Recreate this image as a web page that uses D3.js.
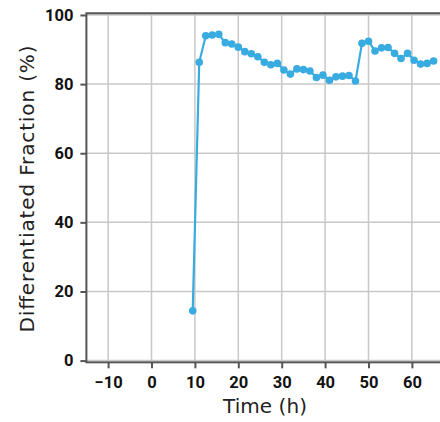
<!DOCTYPE html>
<html><head><meta charset="utf-8">
<script src="https://cdn.jsdelivr.net/npm/d3@7"></script>
<style>body{margin:0;background:#fff;overflow:hidden}svg{display:block}</style>
</head><body>
<script>
const times = [9.5,11,12.5,14,15.5,17,18.5,20,21.5,23,24.5,26,27.5,29,30.5,32,33.5,35,36.5,38,39.5,41,42.5,44,45.5,47,48.5,50,51.5,53,54.5,56,57.5,59,60.5,62,63.5,65];
const fraction = [14.4,86.3,94.0,94.2,94.4,92.0,91.6,90.7,89.4,88.8,87.9,86.3,85.6,86.0,84.1,82.9,84.4,84.2,83.8,81.9,82.6,81.1,82.1,82.3,82.5,80.9,91.8,92.4,89.6,90.5,90.6,88.9,87.4,88.9,86.9,85.8,86.0,86.7];
const xTicks = [-10,0,10,20,30,40,50,60];
const yTicks = [0,20,40,60,80,100];

const W = 440, H = 422;
const svg = d3.select("body").append("svg").attr("width", W).attr("height", H);
const x = d3.scaleLinear().domain([-15, 70]).range([86.4, 455.3]);
const y = d3.scaleLinear().domain([0, 100]).range([360.6, 15]);
const tickFont = "Roboto, 'DejaVu Sans', sans-serif";
const titleFont = "'DejaVu Sans', sans-serif";

const x0 = x(-15), x1 = x(72), yTop = y(100.5), yBot = y(-0.5);

// grid
const g = svg.append("g");
g.selectAll(".vg").data(xTicks).join("line")
  .attr("x1", d => x(d)).attr("x2", d => x(d)).attr("y1", yTop).attr("y2", yBot)
  .attr("stroke", "#c8c8c8").attr("stroke-width", 1.5);
g.selectAll(".hg").data(yTicks).join("line")
  .attr("x1", x0).attr("x2", x1).attr("y1", d => y(d)).attr("y2", d => y(d))
  .attr("stroke", "#c8c8c8").attr("stroke-width", 1.5);

// frame
svg.append("rect").attr("x", x0).attr("y", yTop).attr("width", x1 - x0).attr("height", yBot - yTop)
  .attr("fill", "none").attr("stroke", "#555").attr("stroke-width", 2);

// axes
const xAxis = svg.append("g").attr("transform", `translate(0,${yBot})`)
  .call(d3.axisBottom(x).tickValues(xTicks).tickSize(6).tickPadding(8).tickFormat(d3.format("d")));
const yAxis = svg.append("g").attr("transform", `translate(${x0},0)`)
  .call(d3.axisLeft(y).tickValues(yTicks).tickSize(6).tickPadding(7).tickFormat(d3.format("d")));
[xAxis, yAxis].forEach(a => {
  a.select(".domain").remove();
  a.selectAll(".tick line").attr("stroke", "#555").attr("stroke-width", 2);
  a.selectAll(".tick text").attr("fill", "#111").style("font-family", tickFont)
    .style("font-size", "16.5px").style("font-weight", "bold");
});

// line
const pts = times.map((t, i) => [t, fraction[i]]);
svg.append("path").datum(pts)
  .attr("fill", "none").attr("stroke", "#38abe0").attr("stroke-width", 2.2)
  .attr("d", d3.line().x(d => x(d[0])).y(d => y(d[1])));
svg.selectAll(".pt").data(pts).join("circle")
  .attr("cx", d => x(d[0])).attr("cy", d => y(d[1])).attr("r", 3.8).attr("fill", "#38abe0");

// titles
svg.append("text").attr("x", 265).attr("y", 413).attr("text-anchor", "middle")
  .attr("textLength", 84).attr("lengthAdjust", "spacing")
  .style("font-family", titleFont).style("font-size", "20px").attr("fill", "#222").text("Time (h)");
svg.append("text").attr("transform", "translate(34,189) rotate(-90)").attr("text-anchor", "middle")
  .attr("textLength", 287).attr("lengthAdjust", "spacing")
  .style("font-family", titleFont).style("font-size", "20px").attr("fill", "#222").text("Differentiated Fraction (%)");
</script>
</body></html>
